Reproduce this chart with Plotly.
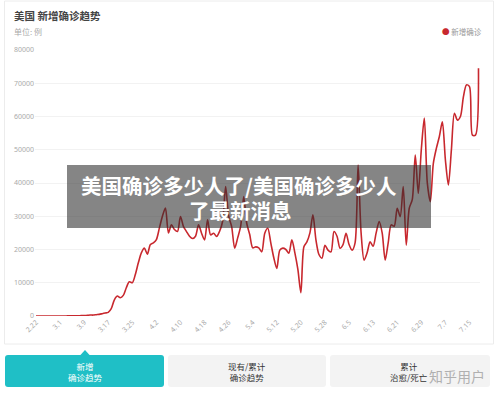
import plotly.graph_objects as go
import pandas as pd

# ---- data ----
dates = [f"{d.month}.{d.day}" for d in pd.date_range("2020-02-22", periods=148)]
new_cases = [
    0, 0, 0, 0, 0, 0, 0, 0,
    10, 20, 20, 30, 40, 60, 70, 100,
    120, 200, 290, 280, 400, 500, 700, 900,
    1100, 2200, 4800, 6000, 5500, 6200, 8500, 10300,
    10000, 12500, 16000, 19000, 20400, 18600, 21500, 22000,
    23000, 26500, 30000, 32500, 25000, 27400, 26000, 25400,
    29900, 26900, 25400, 24000, 23300, 24000, 27400, 24900,
    22900, 28900, 24400, 24900, 23900, 25500, 28500, 38900,
    30000, 26900, 20400, 23500, 27000, 35900, 27900, 24500,
    20500, 20800, 20500, 19300, 24900, 26400, 22000, 17500,
    14300, 19800, 20400, 20000, 18900, 22900, 19000, 14000,
    7000, 20800, 22300, 25000, 30400, 22900, 18500, 17400,
    21300, 19800, 19300, 25400, 24000, 20400, 21500, 24900,
    21500, 19800, 22000, 45400, 25000, 16800, 19000, 22300,
    21000, 25000, 28400, 25000, 16800, 22000, 27400, 27000,
    32400, 29900, 38900, 21300, 32400, 35000, 48400, 36900,
    50000, 59500, 40000, 34400, 45900, 50400, 54000, 58400,
    47000, 39400, 50000, 61000, 58900, 60000, 66000, 69500,
    69000, 54400, 54400, 74500,
]
tick_labels = ["2.22", "3.1", "3.9", "3.17", "3.25", "4.2", "4.10", "4.18", "4.26",
               "5.4", "5.12", "5.20", "5.28", "6.5", "6.13", "6.21", "6.29", "7.7", "7.15"]
y_ticks = [0, 10000, 20000, 30000, 40000, 50000, 60000, 70000, 80000]

idx = list(range(len(new_cases)))
tick_pos = [dates.index(t) for t in tick_labels]

W, H = 500, 394
L, R, T, B = 35, 20, 50, 78
PW, PH = W - L - R, H - T - B

def px(x):
    return (x - L) / PW

def py(y):
    return (H - B - y) / PH

RED = "#c8282e"
CJK = "Noto Sans CJK SC"

fig = go.Figure()
fig.add_trace(go.Scatter(
    x=idx, y=new_cases, mode="lines",
    line=dict(color=RED, width=1.6, shape="spline", smoothing=0.8),
    name="新增确诊", showlegend=False, hoverinfo="skip",
))

shapes = []
# card border
shapes.append(dict(type="rect", xref="paper", yref="paper",
                   x0=px(4.5), x1=px(493.5), y0=py(344), y1=py(1),
                   line=dict(color="#ececec", width=1), fillcolor="rgba(0,0,0,0)", layer="below"))

def rrect(x0, y0, x1, y1, r):
    X0, X1 = px(x0), px(x1)
    Y0, Y1 = py(y0), py(y1)
    rx, ry = r / PW, r / PH
    return (f"M{X0+rx},{Y0} L{X1-rx},{Y0} Q{X1},{Y0} {X1},{Y0-ry} "
            f"L{X1},{Y1+ry} Q{X1},{Y1} {X1-rx},{Y1} L{X0+rx},{Y1} "
            f"Q{X0},{Y1} {X0},{Y1+ry} L{X0},{Y0-ry} Q{X0},{Y0} {X0+rx},{Y0} Z")

# tabs
shapes.append(dict(type="path", xref="paper", yref="paper", path=rrect(5, 355, 164, 387, 3),
                   fillcolor="#1fbfc6", line=dict(width=0)))
shapes.append(dict(type="path", xref="paper", yref="paper",
                   path=f"M{px(80)},{py(355.5)} L{px(85)},{py(350)} L{px(90)},{py(355.5)} Z",
                   fillcolor="#1fbfc6", line=dict(width=0)))
shapes.append(dict(type="path", xref="paper", yref="paper", path=rrect(168, 355, 326, 387, 3),
                   fillcolor="#f3f3f3", line=dict(width=0)))
shapes.append(dict(type="path", xref="paper", yref="paper", path=rrect(330, 355, 490, 387, 3),
                   fillcolor="#f3f3f3", line=dict(width=0)))
# overlay box
shapes.append(dict(type="rect", xref="paper", yref="paper",
                   x0=px(67), x1=px(431), y0=py(228), y1=py(165),
                   fillcolor="rgba(45,45,45,0.58)", line=dict(width=0), layer="above"))

def ann(text, x, y, xanchor, size, color, align="center"):
    return dict(text=text, x=px(x), y=py(y), xref="paper", yref="paper",
                xanchor=xanchor, yanchor="middle", align=align,
                font=dict(family=CJK, size=size, color=color), showarrow=False)

annotations = [
    ann("<b>美国 新增确诊趋势</b>", 12, 16, "left", 10.5, "#444444"),
    ann("单位: 例", 12, 31, "left", 8, "#aaaaaa"),
    ann(f"<span style='color:{RED}'>●</span> 新增确诊", 484, 32, "right", 7.5, "#999999"),
    ann("<b>美国确诊多少人了/美国确诊多少人</b>", 239, 184.5, "center", 20.5, "white"),
    ann("<b>了最新消息</b>", 240, 210.5, "center", 20.5, "white"),
    ann("新增<br>确诊趋势", 85, 371, "center", 8.5, "white"),
    ann("现有/累计<br>确诊趋势", 247, 371, "center", 8.5, "#333333"),
    ann("累计<br>治愈/死亡", 409, 371, "center", 8.5, "#333333"),
    ann("知乎用户", 457, 376, "center", 14, "#b0b0b0"),
]

fig.update_layout(
    width=W, height=H,
    margin=dict(l=L, r=R, t=T, b=B, autoexpand=False),
    paper_bgcolor="white", plot_bgcolor="white",
    showlegend=False,
    xaxis=dict(range=[-0.33, 147.5], tickmode="array", tickvals=tick_pos, ticktext=tick_labels,
               tickangle=-45, tickfont=dict(family="Noto Sans", size=7, color="#aaaaaa"),
               showgrid=False, zeroline=False, showline=False, ticks="", fixedrange=True),
    yaxis=dict(range=[0, 80000], tickmode="array", tickvals=y_ticks,
               ticktext=[str(v) for v in y_ticks],
               tickfont=dict(family="Noto Sans", size=7, color="#aaaaaa"),
               showgrid=True, gridcolor="#f2f2f2", gridwidth=1, zeroline=False,
               showline=False, ticks="", fixedrange=True),
    shapes=shapes, annotations=annotations,
)

fig.write_html("out.html")
